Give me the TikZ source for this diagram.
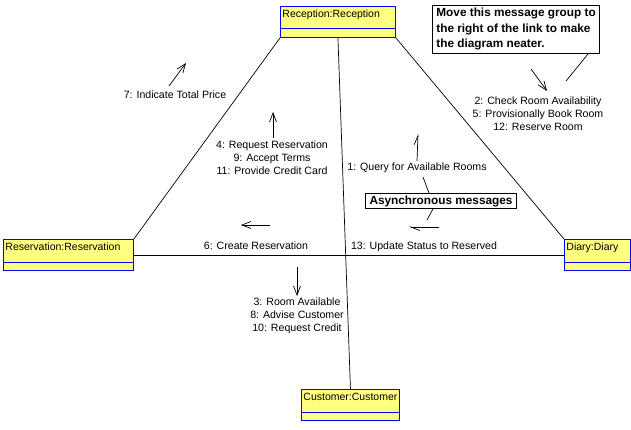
\documentclass[tikz,border=0pt]{standalone}
\usepackage{fontspec}
\setmainfont{Liberation Sans}
\usetikzlibrary{arrows.meta}

\definecolor{objfill}{RGB}{255,255,128}
\definecolor{objline}{RGB}{0,0,255}

\tikzset{
  objbox/.style={draw=objline, fill=objfill, line width=0.9pt, anchor=north west,
    align=left, inner xsep=2pt, inner ysep=2pt, text height=9pt, text depth=18pt,
    font=\fontsize{10.5}{12}\selectfont,
    path picture={\draw[objline, line width=0.9pt]
      ([yshift=8.5pt]path picture bounding box.south west) --
      ([yshift=8.5pt]path picture bounding box.south east);}},
  msg/.style={align=center, inner sep=0pt, font=\fontsize{10.6}{13}\selectfont},
  link/.style={line width=0.7pt},
  syncmsg/.style={line width=0.7pt, -{Straight Barb[length=9pt,width=7pt]}},
  asyncmsg/.style={line width=0.7pt, -{Straight Barb[left,length=9pt,width=7pt]}},
  remark/.style={draw, line width=0.8pt, fill=white, align=left, anchor=north west,
    inner xsep=4pt, inner ysep=3pt, font=\bfseries\fontsize{11.8}{15.5}\selectfont}
}

\begin{document}
\begin{tikzpicture}[x=1pt, y=-1pt]
    \useasboundingbox (0,0) rectangle (631,430);
    \fill[white] (0,0) rectangle (631,430);

    % objects
    \node[objbox, text width=111pt] (rec) at (280,6) {Reception:Reception};
    \node[objbox, text width=126pt] (res) at (3,239) {Reservation:Reservation};
    \node[objbox, text width=62pt] (dia) at (564,239) {Diary:Diary};
    \node[objbox, text width=94pt] (cus) at (301,389) {Customer:Customer};

    % links
    \draw[link] (rec.south west) -- (res.north east);
    \draw[link] (rec.south east) -- (dia.north west);
    \draw[link] (rec.south) -- (cus.north);
    \draw[link] (res.east) -- (dia.west);

    % messages
    \node[msg] (l7) at (175,95) {7: Indicate Total Price};
    \node[msg] (l4) at (272,158) {4: Request Reservation\\9: Accept Terms\\11: Provide Credit Card};
    \node[msg] (l2) at (538,114) {2: Check Room Availability\\5: Provisionally Book Room\\12: Reserve Room};
    \node[msg] (l1) at (417,168) {1: Query for Available Rooms};
    \node[msg] (l6) at (256,246) {6: Create Reservation};
    \node[msg] (l13) at (424,247) {13: Update Status to Reserved};
    \node[msg] (l3) at (297,316) {3: Room Available\\8: Advise Customer\\10: Request Credit};

    \coordinate (a7s) at (169,86);  \coordinate (a7e) at (186,63);
    \coordinate (a4s) at (273,138); \coordinate (a4e) at (273,112);
    \coordinate (a2s) at (531,69);  \coordinate (a2e) at (547,91);
    \coordinate (a6s) at (270,225); \coordinate (a6e) at (241,225);
    \coordinate (a3s) at (297,267); \coordinate (a3e) at (297,296);
    \coordinate (a1s) at (417,161); \coordinate (a1e) at (418,134);
    \coordinate (a13s) at (439,227); \coordinate (a13e) at (409,227);

    \draw[syncmsg] (a7s) -- (a7e);
    \draw[syncmsg] (a4s) -- (a4e);
    \draw[syncmsg] (a2s) -- (a2e);
    \draw[syncmsg] (a6s) -- (a6e);
    \draw[syncmsg] (a3s) -- (a3e);
    \draw[asyncmsg] (a1s) -- (a1e);
    \draw[asyncmsg] (a13s) -- (a13e);

    % notes
    \node[remark] (note) at (432,5) {Move this message group to\\the right of the link to make\\the diagram neater.};
    \coordinate (np) at (566,81);
    \draw[link] ([xshift=-12pt]note.south east) -- (np);

    \node[remark, anchor=center, inner ysep=2pt] (async) at (441,201) {Asynchronous messages};
    \coordinate (q1) at (423,177);
    \coordinate (q2) at (427,220);
    \draw[link] ([xshift=-12pt]async.north) -- (q1);
    \draw[link] ([xshift=-8pt]async.south) -- (q2);
\end{tikzpicture}
\end{document}
